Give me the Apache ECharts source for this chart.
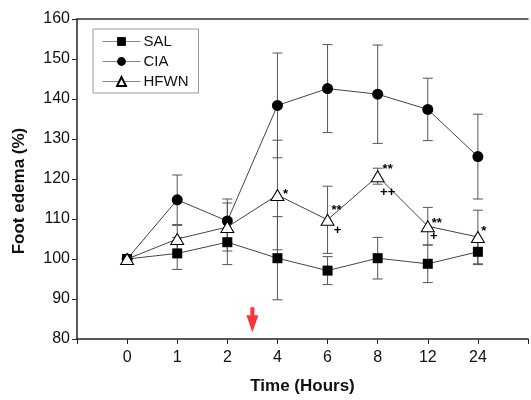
<!DOCTYPE html>
<html>
<head>
<meta charset="utf-8">
<script src="https://cdn.jsdelivr.net/npm/echarts@6/dist/echarts.min.js"></script>
<style>
html, body { margin: 0; padding: 0; background: #fff; }
#chart { width: 531px; height: 400px; }
</style>
</head>
<body>
<div id="chart"></div>
<script>
var hours = ['0', '1', '2', '4', '6', '8', '12', '24'];
var salMean = [100, 101.4, 104.2, 100.2, 97.1, 100.2, 98.8, 101.8];
var salErr = [0, 4.0, 5.6, 10.4, 3.5, 5.2, 4.7, 3.2];
var ciaMean = [100, 114.8, 109.5, 138.4, 142.6, 141.2, 137.4, 125.6];
var ciaErr = [0, 6.2, 5.5, 13.1, 11.0, 12.3, 7.8, 10.6];
var hfwnMean = [100, 105, 108, 116, 109.8, 120.7, 108.2, 105.5];
var hfwnErr = [0, 3.4, 6.0, 13.7, 8.4, 2.0, 4.7, 6.7];
var hfwnStar = ['', '', '', '*', '**', '**', '**', '*'];
var hfwnPlus = ['', '', '', '', '+', '++', '+', ''];
var yTicks = [80, 90, 100, 110, 120, 130, 140, 150, 160];

var myChart = echarts.init(document.getElementById('chart'));
var font = 'Liberation Sans, Arial';

function pts(vals) {
    return vals.map(function (v, i) { return [i, v]; });
}
function errData(mean, err) {
    return mean.map(function (m, i) { return [i, m - err[i], m + err[i]]; });
}
function errSeries(name, mean, err) {
    return {
        name: name,
        type: 'custom',
        z: 1,
        silent: true,
        data: errData(mean, err),
        renderItem: function (params, api) {
            if (api.value(1) === api.value(2)) return null;
            var lo = api.coord([api.value(0), api.value(1)]);
            var hi = api.coord([api.value(0), api.value(2)]);
            var w = 5;
            var st = { stroke: '#555', lineWidth: 1 };
            return {
                type: 'group',
                children: [
                    { type: 'line', shape: { x1: lo[0], y1: lo[1], x2: hi[0], y2: hi[1] }, style: st },
                    { type: 'line', shape: { x1: lo[0] - w, y1: lo[1], x2: lo[0] + w, y2: lo[1] }, style: st },
                    { type: 'line', shape: { x1: hi[0] - w, y1: hi[1], x2: hi[0] + w, y2: hi[1] }, style: st }
                ]
            };
        }
    };
}

// label offsets of the significance marks, relative to the HFWN point
var starOffsets = [[0, 0], [0, 0], [0, 0], [8, -1], [9, -9], [10, -7], [9, -3], [6, -6]];
var plusOffsets = [[0, 0], [0, 0], [0, 0], [0, 0], [10, 11], [10, 16], [6, 10], [0, 0]];
var marks = [];
hfwnStar.forEach(function (s, i) {
    if (s) marks.push({ coord: [i, hfwnMean[i]], label: { formatter: s, offset: starOffsets[i] } });
});
hfwnPlus.forEach(function (s, i) {
    if (s) marks.push({ coord: [i, hfwnMean[i]], label: { formatter: s, offset: plusOffsets[i] } });
});

var lineStyle = { color: '#444', width: 1 };

option = {
    animation: false,
    grid: { left: 77, right: 0, top: 19, bottom: 54, containLabel: false },
    legend: {
        orient: 'vertical',
        left: 93,
        top: 29,
        padding: [5, 10, 4, 9],
        itemGap: 5,
        itemWidth: 38,
        itemHeight: 11,
        borderColor: '#999',
        borderWidth: 1,
        lineStyle: { color: '#888', width: 1 },
        textStyle: { fontFamily: font, fontSize: 15, color: '#111', padding: [0, 0, 0, -2], lineHeight: 14 },
        data: ['SAL', 'CIA', 'HFWN']
    },
    xAxis: [{
        type: 'value',
        min: -1,
        max: 8,
        interval: 1,
        splitLine: { show: false },
        axisLine: { onZero: false, lineStyle: { color: '#222', width: 1.5 } },
        axisTick: { inside: false, length: 5, lineStyle: { color: '#222' } },
        axisLabel: {
            fontFamily: font, fontSize: 16, color: '#111', margin: 11,
            formatter: function (v) { return hours[v] !== undefined ? hours[v] : ''; }
        },
        name: 'Time (Hours)',
        nameLocation: 'middle',
        nameGap: 39,
        nameTextStyle: { fontFamily: font, fontSize: 17, fontWeight: 'bold', color: '#111' }
    }, {
        type: 'value',
        position: 'top',
        min: -1,
        max: 8,
        axisLine: { show: true, onZero: false, lineStyle: { color: '#333', width: 1.5 } },
        axisTick: { show: false },
        axisLabel: { show: false },
        splitLine: { show: false }
    }],
    yAxis: {
        type: 'value',
        min: yTicks[0],
        max: yTicks[yTicks.length - 1],
        interval: 10,
        splitLine: { show: false },
        axisLine: { show: true, onZero: false, lineStyle: { color: '#222', width: 1.5 } },
        axisTick: { show: true, length: 5, lineStyle: { color: '#222' } },
        axisLabel: { fontFamily: font, fontSize: 16, color: '#111', margin: 7 },
        name: 'Foot edema (%)',
        nameLocation: 'middle',
        nameGap: 49,
        nameTextStyle: { fontFamily: font, fontSize: 17, fontWeight: 'bold', color: '#111', padding: [0, 24, 0, 0] }
    },
    series: [
        errSeries('SAL err', salMean, salErr),
        errSeries('CIA err', ciaMean, ciaErr),
        errSeries('HFWN err', hfwnMean, hfwnErr),
        {
            name: 'SAL', type: 'line', z: 3, data: pts(salMean),
            symbol: 'rect', symbolSize: 10,
            itemStyle: { color: '#000' }, lineStyle: lineStyle
        },
        {
            name: 'CIA', type: 'line', z: 3, data: pts(ciaMean),
            symbol: 'circle', symbolSize: 11,
            itemStyle: { color: '#000' }, lineStyle: lineStyle
        },
        {
            name: 'HFWN', type: 'line', z: 4, data: pts(hfwnMean),
            symbol: 'triangle', symbolSize: [13, 11],
            itemStyle: { color: '#fff', borderColor: '#000', borderWidth: 1 }, lineStyle: lineStyle,
            markPoint: {
                symbol: 'circle', symbolSize: 0,
                label: { show: true, position: 'inside', fontFamily: font, fontSize: 13, fontWeight: 'bold', color: '#000' },
                data: marks
            }
        },
        {
            name: 'arrow', type: 'scatter', z: 5, silent: true,
            data: [[2.5, 84.8]],
            symbol: 'path://M4,0 L8,0 L8,8 L12,8 L6,25 L0,8 L4,8 Z',
            symbolSize: [12, 25],
            itemStyle: { color: '#ff0000' }
        }
    ]
};

myChart.setOption(option, true);
</script>
</body>
</html>
